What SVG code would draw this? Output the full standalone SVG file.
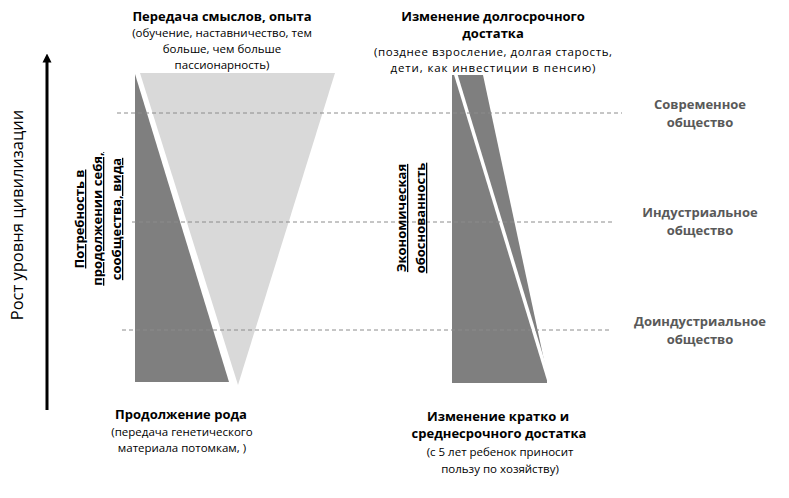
<svg xmlns="http://www.w3.org/2000/svg" width="789" height="498" viewBox="0 0 789 498">
<defs>
<style>
text{font-family:"Open Sans","Liberation Sans",sans-serif;fill:#000;text-anchor:middle}
.h{font-weight:bold;font-size:13px}
.s{font-size:11.5px}
.v{font-weight:bold;font-size:13px;text-decoration:underline}
.r{font-weight:bold;font-size:13px;fill:#595959}
.dash{stroke:#8c8c8c;stroke-width:1;stroke-dasharray:4 3;fill:none}
.dark{fill:#7f7f7f}
.light{fill:#d9d9d9}
</style>
<marker id="ah" viewBox="0 0 10 10" refX="5" refY="5" markerWidth="3" markerHeight="3.5" orient="auto">
<path d="M0,0 L10,5 L0,10 z" fill="#000"/>
</marker>
</defs>
<rect width="789" height="498" fill="#fff"/>

<g id="left-shapes">
<polygon class="light" points="140,73 335,73 238,385"/>
<polygon class="dark" points="135,74 229,382 135,382"/>
</g>
<g id="right-shapes">
<polygon class="dark" points="452,75 483,75 547,374 547,383 452,383"/>
<line x1="455" y1="72" x2="549" y2="381" stroke="#fff" stroke-width="3.5"/>
</g>

<g id="connectors">
<line class="dash" x1="117" y1="113" x2="622" y2="113"/>
<line class="dash" x1="132" y1="222" x2="612" y2="222"/>
<line class="dash" x1="122" y1="330" x2="612" y2="330"/>
<line x1="47" y1="410" x2="47" y2="58" stroke="#000" stroke-width="3" marker-end="url(#ah)"/>
</g>

<g id="axis-label">
<text transform="translate(23,215) rotate(-90)" style="font-size:16.5px">Рост уровня цивилизации</text>
</g>

<g id="need-label">
<text class="v" transform="translate(84,219) rotate(-90)">Потребность в</text>
<text class="v" transform="translate(102,219) rotate(-90)">продолжении себя,</text>
<text class="v" transform="translate(121,219) rotate(-90)">сообщества, вида</text>
</g>

<g id="econ-label">
<text class="v" transform="translate(406,218) rotate(-90)">Экономическая</text>
<text class="v" transform="translate(425,218) rotate(-90)">обоснованность</text>
</g>

<g id="top-left">
<text class="h" x="222" y="21">Передача смыслов, опыта</text>
<text class="s" x="222" y="37">(обучение, наставничество, тем</text>
<text class="s" x="222" y="53">больше, чем больше</text>
<text class="s" x="222" y="69">пассионарность)</text>
</g>

<g id="top-right">
<text class="h" x="493" y="21">Изменение долгосрочного</text>
<text class="h" x="493" y="38">достатка</text>
<text class="s" x="493" y="56" textLength="238" lengthAdjust="spacing">(позднее взросление, долгая старость,</text>
<text class="s" x="493" y="72" textLength="205" lengthAdjust="spacing">дети, как инвестиции в пенсию)</text>
</g>

<g id="bottom-left">
<text class="h" x="181" y="419">Продолжение рода</text>
<text class="s" x="182" y="436">(передача генетического</text>
<text class="s" x="182" y="452">материала потомкам, )</text>
</g>

<g id="bottom-right">
<text class="h" x="498" y="421">Изменение кратко и</text>
<text class="h" x="499" y="438">среднесрочного достатка</text>
<text class="s" x="500" y="456">(с 5 лет ребенок приносит</text>
<text class="s" x="500" y="473">пользу по хозяйству)</text>
</g>

<g id="society-modern">
<text class="r" x="700" y="109">Современное</text>
<text class="r" x="700" y="127">общество</text>
</g>
<g id="society-industrial">
<text class="r" x="700" y="217">Индустриальное</text>
<text class="r" x="700" y="235">общество</text>
</g>
<g id="society-preindustrial">
<text class="r" x="700" y="326">Доиндустриальное</text>
<text class="r" x="700" y="344">общество</text>
</g>
</svg>
